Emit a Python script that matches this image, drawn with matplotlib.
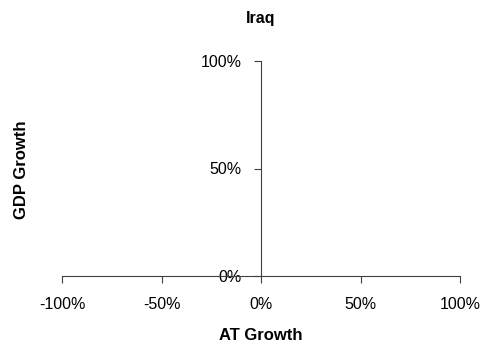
import matplotlib.pyplot as plt
from matplotlib.ticker import FuncFormatter

plt.rcParams['font.family'] = ['Liberation Sans', 'DejaVu Sans']

# no observations shown for this country
at_growth = []
gdp_growth = []

x_ticks = [-1.0, -0.5, 0.0, 0.5, 1.0]
y_ticks = [0.0, 0.5, 1.0]

fig = plt.figure(figsize=(4.87, 3.52), dpi=100)
ax = fig.add_axes([62/487, 1-276/352, (460-62)/487, (276-61)/352])

ax.scatter(at_growth, gdp_growth, color='#000080', s=12)

ax.set_xlim(-1, 1)
ax.set_ylim(0, 1)
ax.set_xticks(x_ticks)
ax.set_yticks(y_ticks)
pct = FuncFormatter(lambda v, p: f"{v*100:.0f}%")
ax.xaxis.set_major_formatter(pct)
ax.yaxis.set_major_formatter(pct)

line_col = '#404040'
ax.spines['right'].set_visible(False)
ax.spines['top'].set_visible(False)
ax.spines['left'].set_position(('data', 0))
for s in ['left', 'bottom']:
    ax.spines[s].set_color(line_col)
    ax.spines[s].set_linewidth(0.8)
ax.tick_params(direction='out', length=5, width=0.8, color=line_col,
               labelsize=11.5, labelcolor='black')
ax.tick_params(axis='x', pad=10)
ax.tick_params(axis='y', pad=9)

fig.text(261/487, 1-18/352, 'Iraq', ha='center', va='center',
         fontsize=11.5, fontweight='bold')
fig.text(261/487, 1-336/352, 'AT Growth', ha='center', va='center',
         fontsize=12, fontweight='bold')
fig.text(22/487, 1-170/352, 'GDP Growth', ha='center', va='center',
         rotation=90, fontsize=12, fontweight='bold')

fig.savefig('out.png', dpi=100)
